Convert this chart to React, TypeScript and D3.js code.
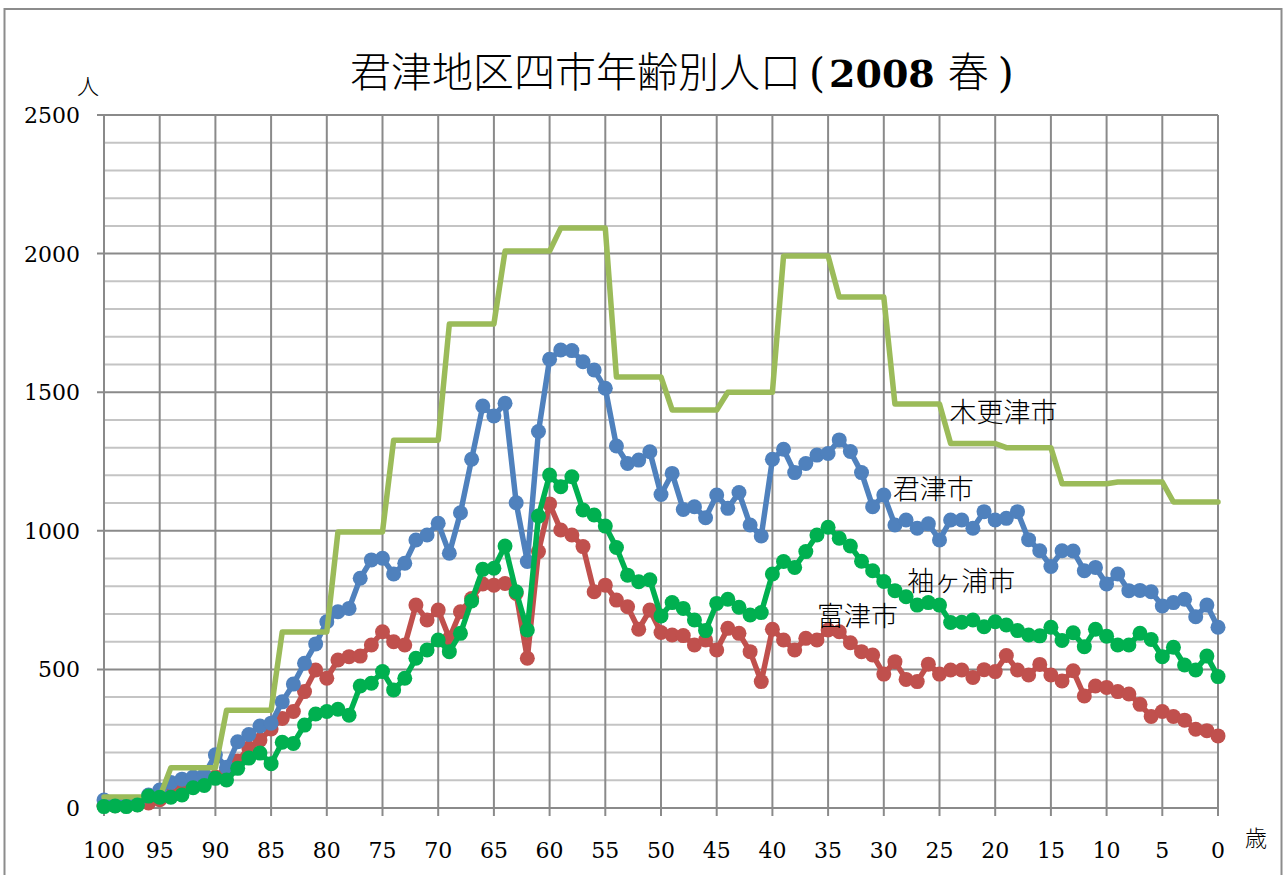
import * as d3 from "d3";
import { useEffect, useRef } from "react";

// 年齢 (100歳 → 0歳)
const ages = d3.range(100, -1, -1);
const xTickAges = [100, 95, 90, 85, 80, 75, 70, 65, 60, 55, 50, 45, 40, 35, 30, 25, 20, 15, 10, 5, 0];
const yTicks = [0, 500, 1000, 1500, 2000, 2500];
const yGrid = d3.range(0, 2501, 100);

// 君津市 (100歳 → 0歳)
const kimitsu = [
  29, 18, 15, 20, 47, 65, 92, 104, 112, 120,
  192, 147, 239, 265, 296, 306, 383, 447, 522, 592,
  672, 708, 720, 829, 895, 901, 844, 883, 967, 985,
  1027, 919, 1065, 1258, 1450, 1414, 1460, 1101, 889, 1358,
  1619, 1652, 1650, 1610, 1580, 1514, 1306, 1243, 1255, 1285,
  1131, 1207, 1077, 1087, 1047, 1129, 1081, 1138, 1021, 981,
  1258, 1294, 1210, 1243, 1273, 1279, 1328, 1286, 1210, 1087,
  1129, 1021, 1039, 1009, 1025, 967, 1039, 1039, 1009, 1069,
  1039, 1045, 1069, 968, 928, 871, 928, 927, 856, 868,
  808, 844, 784, 785, 780, 729, 741, 753, 690, 732,
  652,
];

// 富津市
const futtsu = [
  8, 8, 10, 12, 18, 30, 48, 65, 80, 95,
  112, 135, 170, 216, 245, 285, 323, 348, 420, 498,
  468, 534, 546, 548, 588, 636, 600, 588, 732, 678,
  714, 612, 708, 756, 808, 804, 810, 774, 540, 925,
  1097, 1003, 985, 943, 780, 804, 750, 726, 645, 714,
  633, 624, 622, 588, 606, 570, 648, 630, 564, 456,
  645, 606, 570, 612, 606, 642, 636, 596, 564, 552,
  483, 528, 464, 456, 519, 483, 498, 498, 471, 499,
  492, 550, 498, 480, 518, 480, 458, 495, 404, 440,
  435, 420, 411, 374, 330, 348, 330, 317, 284, 279,
  260,
];

// 袖ヶ浦市
const sodegaura = [
  5, 7, 5, 11, 43, 39, 39, 47, 73, 81,
  107, 101, 143, 180, 198, 160, 237, 233, 299, 339,
  348, 356, 335, 440, 450, 492, 426, 468, 540, 570,
  606, 564, 630, 747, 861, 865, 945, 780, 642, 1053,
  1201, 1159, 1195, 1075, 1057, 1017, 940, 840, 816, 823,
  693, 741, 720, 678, 640, 738, 753, 724, 696, 705,
  844, 889, 868, 925, 985, 1013, 973, 945, 890, 856,
  817, 784, 762, 732, 741, 732, 669, 670, 678, 654,
  672, 660, 640, 624, 621, 652, 604, 632, 582, 645,
  620, 588, 588, 630, 608, 546, 580, 516, 498, 548,
  474,
];

// 木更津市 (5歳階級)
const kisarazu = [
  40, 40, 40, 40, 40, 40, 145, 145, 145, 145,
  145, 353, 353, 353, 353, 353, 635, 635, 635, 635,
  635, 996, 996, 996, 996, 996, 1327, 1327, 1327, 1327,
  1327, 1746, 1746, 1746, 1746, 1746, 2009, 2009, 2009, 2009,
  2009, 2092, 2092, 2092, 2092, 2092, 1555, 1555, 1555, 1555,
  1555, 1436, 1436, 1436, 1436, 1436, 1500, 1500, 1500, 1500,
  1500, 1991, 1991, 1991, 1991, 1991, 1843, 1843, 1843, 1843,
  1843, 1457, 1457, 1457, 1457, 1457, 1315, 1315, 1315, 1315,
  1315, 1300, 1300, 1300, 1300, 1300, 1170, 1170, 1170, 1170,
  1170, 1176, 1176, 1176, 1176, 1176, 1104, 1104, 1104, 1104,
  1104,
];

const seriesList = [
  { name: "富津市", values: futtsu, color: "#C0504D", markers: true },
  { name: "君津市", values: kimitsu, color: "#4F81BD", markers: true },
  { name: "木更津市", values: kisarazu, color: "#9BBB59", markers: false },
  { name: "袖ヶ浦市", values: sodegaura, color: "#00B050", markers: true },
];

const App = () => {
  const svgRef = useRef<SVGSVGElement>(null);
  useEffect(() => {
    if (!svgRef.current) return;
    const svg = d3.select(svgRef.current);
    svg.selectAll("*").remove();

    const width = 1285;
    const height = 875;
    const left = 104;
    const right = 1218;
    const top = 115;
    const bottom = 808;
    const jp = "'Noto Sans CJK JP', sans-serif";
    const serif = "'DejaVu Serif', serif";

    const x = d3.scaleLinear().domain([100, 0]).range([left, right]);
    const y = d3.scaleLinear().domain([0, 2500]).range([bottom, top]);

    svg.attr("width", width).attr("height", height);

    // 外枠
    svg
      .append("rect")
      .attr("x", 4.5)
      .attr("y", 9)
      .attr("width", 1277)
      .attr("height", 900)
      .attr("fill", "white")
      .attr("stroke", "#8c8c8c")
      .attr("stroke-width", 2);

    // 横グリッド
    svg
      .append("g")
      .selectAll()
      .data(yGrid)
      .join("line")
      .attr("x1", (d) => (d % 500 === 0 ? left - 7 : left))
      .attr("x2", right)
      .attr("y1", (d) => y(d))
      .attr("y2", (d) => y(d))
      .attr("stroke", (d) => (d % 500 === 0 ? "#8a8a8a" : "#c4c4c4"))
      .attr("stroke-width", 2);

    // 縦グリッド
    svg
      .append("g")
      .selectAll()
      .data(xTickAges)
      .join("line")
      .attr("x1", (d) => x(d))
      .attr("x2", (d) => x(d))
      .attr("y1", top)
      .attr("y2", bottom + 8)
      .attr("stroke", "#8a8a8a")
      .attr("stroke-width", 2);

    // 軸の目盛ラベル
    svg
      .append("g")
      .attr("font-family", serif)
      .attr("font-size", 22)
      .attr("text-anchor", "end")
      .selectAll()
      .data(yTicks)
      .join("text")
      .attr("x", left - 24)
      .attr("y", (d) => y(d) + 8)
      .text((d) => d);

    svg
      .append("g")
      .attr("font-family", serif)
      .attr("font-size", 22)
      .attr("text-anchor", "middle")
      .selectAll()
      .data(xTickAges)
      .join("text")
      .attr("x", (d) => x(d))
      .attr("y", 858)
      .text((d) => d);

    // 系列
    const line = d3
      .line<number>()
      .x((_, i) => x(ages[i]))
      .y((d) => y(d));

    seriesList.forEach((s) => {
      const g = svg.append("g");
      g.append("path")
        .attr("d", line(s.values))
        .attr("fill", "none")
        .attr("stroke", s.color)
        .attr("stroke-width", 5.5)
        .attr("stroke-linejoin", "round")
        .attr("stroke-linecap", "round");
      if (s.markers) {
        g.selectAll("circle")
          .data(s.values)
          .join("circle")
          .attr("cx", (_, i) => x(ages[i]))
          .attr("cy", (d) => y(d))
          .attr("r", 7.5)
          .attr("fill", s.color);
      }
    });

    // 系列名
    const labels = [
      { text: "木更津市", age: 24.1, value: 1392 },
      { text: "君津市", age: 29.2, value: 1115 },
      { text: "袖ヶ浦市", age: 27.9, value: 783 },
      { text: "富津市", age: 36.0, value: 657 },
    ];
    svg
      .append("g")
      .attr("font-family", jp)
      .attr("font-size", 27)
      .attr("font-weight", 300)
      .selectAll()
      .data(labels)
      .join("text")
      .attr("x", (d) => x(d.age))
      .attr("y", (d) => y(d.value))
      .text((d) => d.text);

    // タイトル
    const title = svg
      .append("text")
      .attr("x", 350)
      .attr("y", 87)
      .attr("font-size", 41)
      .attr("font-family", jp)
      .attr("font-weight", 300);
    title.append("tspan").text("君津地区四市年齢別人口");
    title
      .append("tspan")
      .attr("dx", 8)
      .attr("font-family", serif)
      .attr("font-weight", 400)
      .text("(");
    title
      .append("tspan")
      .attr("dx", 4)
      .attr("font-family", serif)
      .attr("font-weight", 700)
      .attr("font-size", 38)
      .text("2008");
    title.append("tspan").attr("dx", 13).text("春");
    title
      .append("tspan")
      .attr("dx", 9)
      .attr("font-family", serif)
      .attr("font-weight", 400)
      .text(")");

    // 単位
    svg
      .append("text")
      .attr("x", 88)
      .attr("y", 94)
      .attr("text-anchor", "middle")
      .attr("font-family", jp)
      .attr("font-weight", 300)
      .attr("font-size", 22)
      .text("人");
    svg
      .append("text")
      .attr("x", 1256)
      .attr("y", 846)
      .attr("text-anchor", "middle")
      .attr("font-family", jp)
      .attr("font-weight", 300)
      .attr("font-size", 22)
      .text("歳");
  }, []);
  return (
    <svg
      ref={svgRef}
      style={{ position: "absolute", left: 0, top: 0, display: "block" }}
    ></svg>
  );
};

export default App;
